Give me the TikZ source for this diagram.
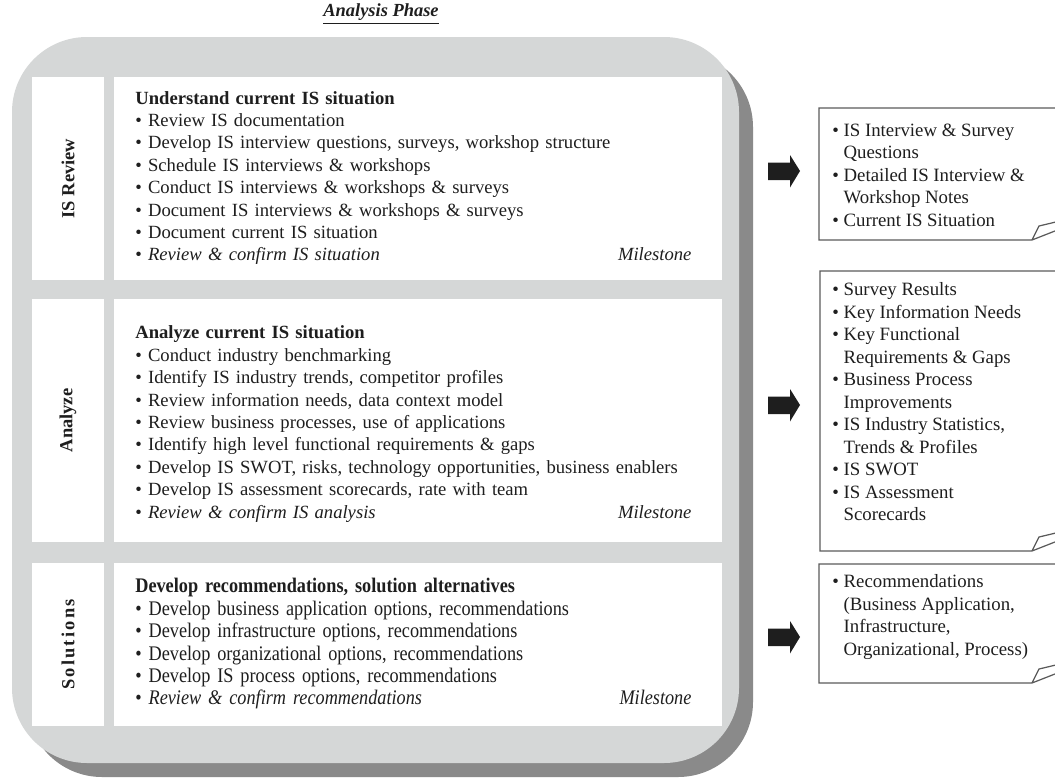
\documentclass[tikz,border=0pt]{standalone}
\usepackage{fontspec}
\setmainfont{Liberation Serif}
\newfontfamily\narrowserif[FakeStretch=0.88]{Liberation Serif}
\usetikzlibrary{positioning, calc}
\definecolor{phasegrey}{HTML}{D5D7D7}
\definecolor{phaseshadow}{HTML}{8A8A8A}
\definecolor{phaseink}{HTML}{1E1E1E}
\definecolor{boxline}{HTML}{5A5A5A}

\newcommand{\bul}{\textbullet\ }
\newcommand{\hang}{\hphantom{\textbullet\ }}
\newcommand{\mstone}{\hskip0pt plus 1fill\textit{Milestone}\hspace*{5pt}}
\newcommand{\bodyfont}{\fontsize{10.6pt}{12.75pt}\selectfont}
\newcommand{\boxfont}{\fontsize{10.7pt}{12.8pt}\selectfont}

\begin{document}
\begin{tikzpicture}[
  x=0.02cm, y=-0.02cm,
  lane/.style={fill=white, inner sep=0pt, minimum width=1.44cm},
  work/.style={fill=white, inner sep=0pt, minimum width=12.16cm},
  lanetext/.style={rotate=90, font=\fontsize{10.5pt}{12pt}\selectfont\bfseries, text=phaseink},
  tasks/.style={anchor=west, inner sep=0pt, text width=11.3cm, align=left, font=\bodyfont, text=phaseink},
  outbox/.style={draw=boxline, line width=0.7pt},
  outtext/.style={anchor=west, inner sep=0pt, align=left, font=\boxfont, text=phaseink},
  blockarr/.style={fill=phaseink}
]
  \useasboundingbox (0,0) rectangle (1055,778);

  % phase frame with shadow
  \fill[phaseshadow, rounded corners=1.5cm] (27,52) rectangle (753,777);
  \fill[phasegrey, rounded corners=1.5cm] (12,37) rectangle (739,763);
  \node[font=\fontsize{10.5pt}{12pt}\selectfont\bfseries\itshape, text=phaseink] (phase) at (381,14) {\underline{Analysis Phase}};

  % IS Review
  \node[lane, minimum height=4.06cm] (revlane) at (68,178.5) {};
  \node[work, minimum height=4.06cm] (revwork) at (418,178.5) {};
  \node[lanetext] (revlabel) at (revlane) {IS Review};
  \node[tasks] (revtasks) at (135,178) {\textbf{Understand current IS situation}\\
    \bul Review IS documentation\\
    \bul Develop IS interview questions, surveys, workshop structure\\
    \bul Schedule IS interviews \& workshops\\
    \bul Conduct IS interviews \& workshops \& surveys\\
    \bul Document IS interviews \& workshops \& surveys\\
    \bul Document current IS situation\\
    \bul \textit{Review \& confirm IS situation}\mstone};

  % Analyze
  \node[lane, minimum height=4.86cm] (anlane) at (68,420.5) {};
  \node[work, minimum height=4.86cm] (anwork) at (418,420.5) {};
  \node[lanetext] (anlabel) at (anlane) {Analyze};
  \node[tasks] (antasks) at (135,424) {\textbf{Analyze current IS situation}\\
    \bul Conduct industry benchmarking\\
    \bul Identify IS industry trends, competitor profiles\\
    \bul Review information needs, data context model\\
    \bul Review business processes, use of applications\\
    \bul Identify high level functional requirements \& gaps\\
    \bul \mbox{Develop IS SWOT, risks, technology opportunities, business enablers}\\
    \bul Develop IS assessment scorecards, rate with team\\
    \bul \textit{Review \& confirm IS analysis}\mstone};

  % Solutions
  \node[lane, minimum height=3.26cm] (sollane) at (68,644.5) {};
  \node[work, minimum height=3.26cm] (solwork) at (418,644.5) {};
  \node[lanetext, font=\fontsize{10.5pt}{12pt}\selectfont\bfseries\addfontfeature{LetterSpace=12}] (sollabel) at (sollane) {Solutions};
  \node[tasks, font=\fontsize{11.8pt}{12.75pt}\selectfont\narrowserif] (soltasks) at (135,644) {\textbf{Develop recommendations, solution alternatives}\\
    \bul Develop business application options, recommendations\\
    \bul Develop infrastructure options, recommendations\\
    \bul Develop organizational options, recommendations\\
    \bul Develop IS process options, recommendations\\
    \bul \textit{Review \& confirm recommendations}\mstone};

  % block arrows
  \fill[blockarr] (768,162.5) -- (790,162.5) -- (790,155) -- (800,171) -- (790,187.5) -- (790,180) -- (768,180) -- cycle;
  \fill[blockarr] (768,396.5) -- (790,396.5) -- (790,389) -- (800,405) -- (790,421.5) -- (790,414) -- (768,414) -- cycle;
  \fill[blockarr] (768,628.5) -- (790,628.5) -- (790,621) -- (800,637) -- (790,653.5) -- (790,646) -- (768,646) -- cycle;

  % deliverables
  \draw[outbox] (1060,108) -- (819,108) -- (819,240) -- (1032,240) -- (1039,226) -- (1060,221) (1032,240) -- (1060,229);
  \node[outtext] (revout) at (832,175) {\bul IS Interview \& Survey\\
    \hang Questions\\
    \bul Detailed IS Interview \&\\
    \hang Workshop Notes\\
    \bul Current IS Situation};

  \draw[outbox] (1060,271) -- (820,271) -- (820,551) -- (1032,551) -- (1039,537) -- (1060,532) (1032,551) -- (1060,540);
  \node[outtext] (anout) at (832,402) {\bul Survey Results\\
    \bul Key Information Needs\\
    \bul Key Functional\\
    \hang Requirements \& Gaps\\
    \bul Business Process\\
    \hang Improvements\\
    \bul IS Industry Statistics,\\
    \hang Trends \& Profiles\\
    \bul IS SWOT\\
    \bul IS Assessment\\
    \hang Scorecards};

  \draw[outbox] (1060,564) -- (819,564) -- (819,683) -- (1032,683) -- (1039,669) -- (1060,664) (1032,683) -- (1060,672);
  \node[outtext] (solout) at (832,617) {\bul Recommendations\\
    \hang (Business Application,\\
    \hang Infrastructure,\\
    \hang Organizational, Process)};
\end{tikzpicture}
\end{document}
